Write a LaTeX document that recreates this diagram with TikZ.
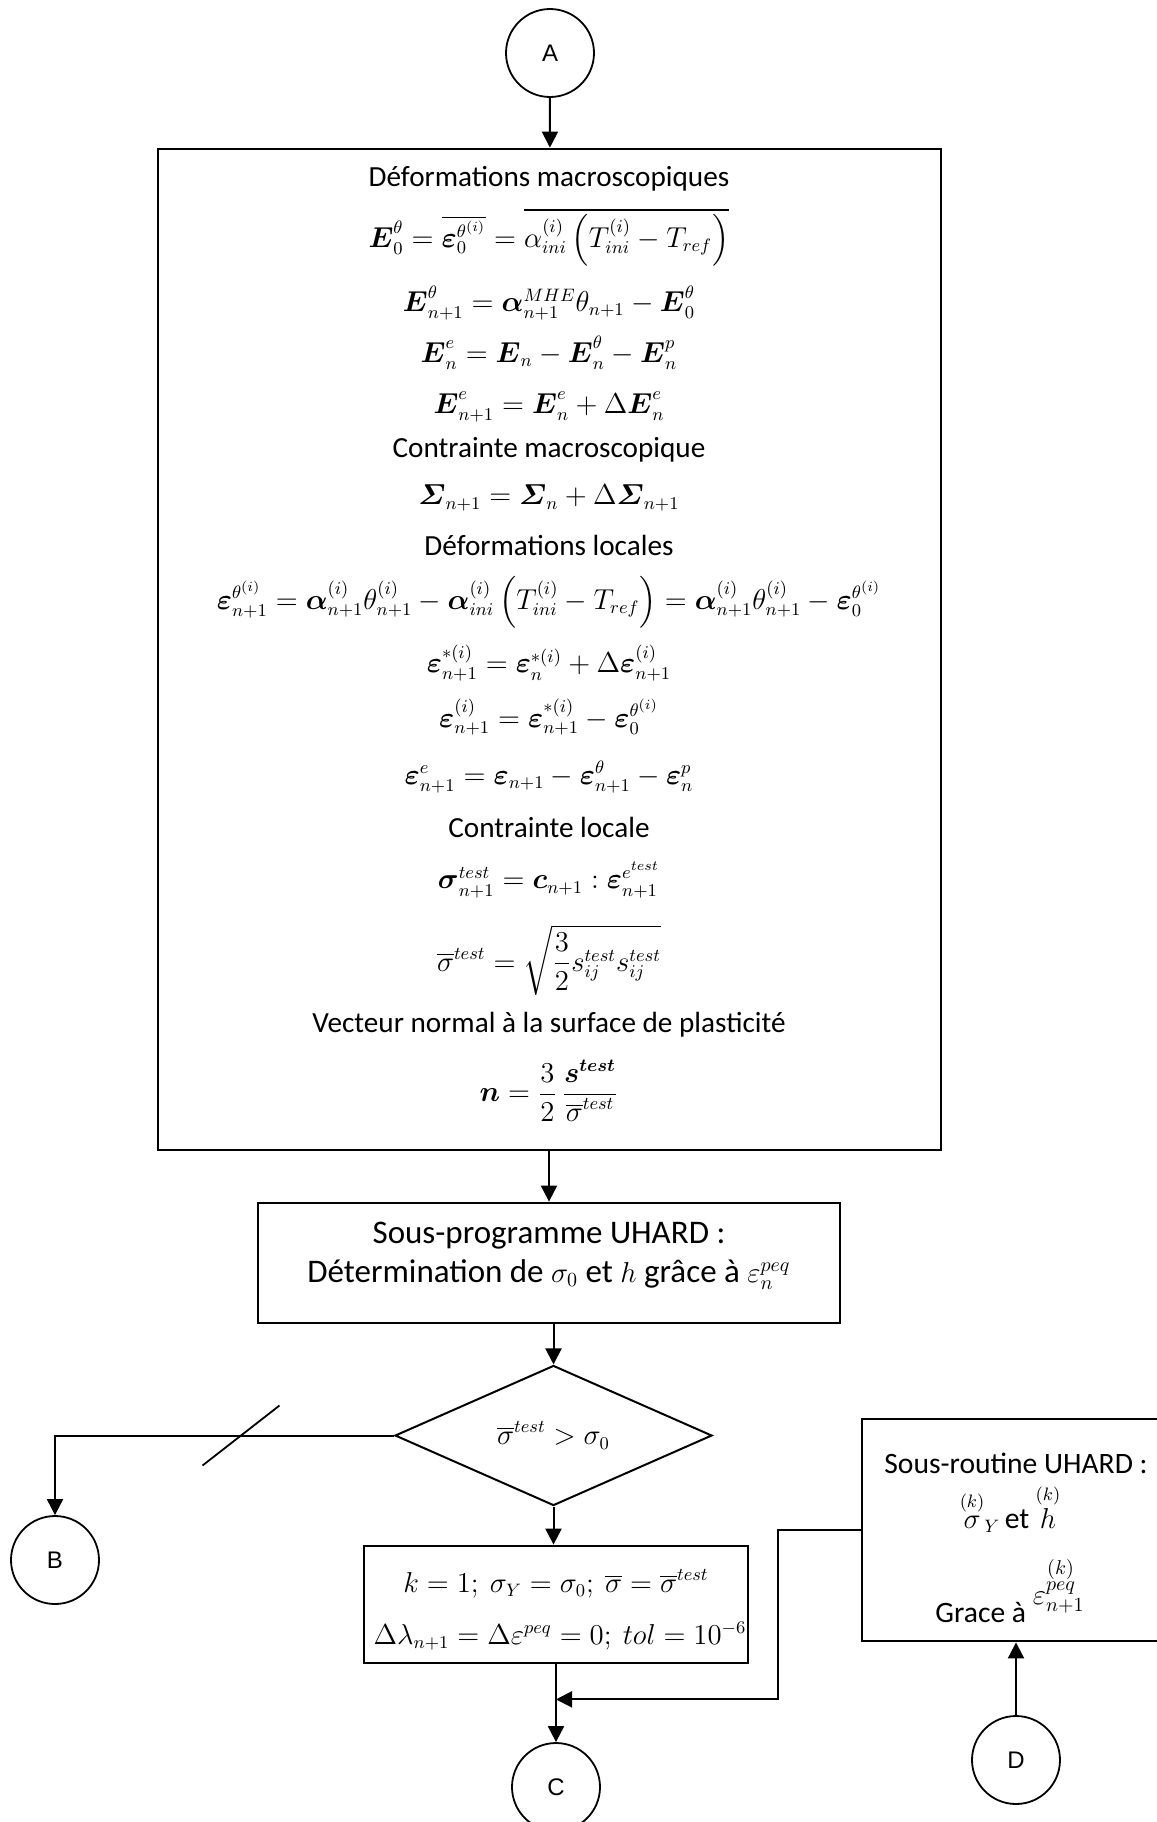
\documentclass[tikz,border=0pt]{standalone}
\usepackage{amsmath}
\usepackage[no-math]{fontspec}
\setmainfont{Carlito}
\newfontfamily\letterfont{Liberation Sans}
\usetikzlibrary{arrows.meta,positioning,calc,shapes.geometric}
\DeclareMathSizes{14}{14}{9.5}{7}
\DeclareMathSizes{15}{15}{10}{7.5}
\DeclareMathSizes{16}{16}{11}{8}
\newcommand{\bfE}{\boldsymbol{E}}
\newcommand{\bfeps}{\boldsymbol{\varepsilon}}
\newcommand{\bfalpha}{\boldsymbol{\alpha}}
\newcommand{\mth}[1]{{\fontsize{15}{17}\selectfont$#1$}}

\begin{document}
\begin{tikzpicture}[
    x=0.5pt, y=-0.5pt, >={Triangle[length=8pt,width=8pt]},
    link/.style={circle,draw,line width=0.9pt,minimum size=44pt,inner sep=0pt,
                 font=\fontsize{12}{14}\letterfont},
    block/.style={draw,line width=1.4pt,inner sep=0pt},
    head/.style={font=\fontsize{14.6}{17}\selectfont},
    eq/.style={font=\fontsize{14}{17}\selectfont},
    test/.style={diamond,draw,line width=1pt,inner sep=0pt,
                 minimum width=158.5pt,minimum height=67.5pt},
    flow/.style={->,line width=1pt}
  ]
    \useasboundingbox (0,0) rectangle (1157,1822);
    \clip (0,0) rectangle (1157,1822);

    \node[link] (A) at (550,53) {A};

    % bloc principal
    \node[block, minimum width=391.5pt, minimum height=500.5pt] (macro) at (549.5,649.5) {};
    \node[head] (h1) at (549,179) {Déformations macroscopiques};
    \node[eq] (e1) at (549,237) {$\bfE_0^{\theta} = \overline{\bfeps_0^{\theta^{(i)}}} = \overline{\alpha_{ini}^{(i)}\left(T_{ini}^{(i)} - T_{ref}\right)}$};
    \node[eq] (e2) at (549,303) {$\bfE_{n+1}^{\theta} = \bfalpha_{n+1}^{MHE}\theta_{n+1} - \bfE_0^{\theta}$};
    \node[eq] (e3) at (549,353) {$\bfE_n^e = \bfE_n - \bfE_n^{\theta} - \bfE_n^p$};
    \node[eq] (e4) at (549,407) {$\bfE_{n+1}^e = \bfE_n^e + \Delta\bfE_n^e$};
    \node[head] (h2) at (549,450) {Contrainte macroscopique};
    \node[eq] (e5) at (549,498) {$\boldsymbol{\varSigma}_{n+1} = \boldsymbol{\varSigma}_n + \Delta\boldsymbol{\varSigma}_{n+1}$};
    \node[head] (h3) at (549,545) {Déformations locales};
    \node[eq] (e6) at (549,602) {$\bfeps_{n+1}^{\theta^{(i)}} = \bfalpha_{n+1}^{(i)}\theta_{n+1}^{(i)} - \bfalpha_{ini}^{(i)}\left(T_{ini}^{(i)} - T_{ref}\right) = \bfalpha_{n+1}^{(i)}\theta_{n+1}^{(i)} - \bfeps_0^{\theta^{(i)}}$};
    \node[eq] (e7) at (549,663) {$\bfeps_{n+1}^{*(i)} = \bfeps_n^{*(i)} + \Delta\bfeps_{n+1}^{(i)}$};
    \node[eq] (e8) at (549,717) {$\bfeps_{n+1}^{(i)} = \bfeps_{n+1}^{*(i)} - \bfeps_0^{\theta^{(i)}}$};
    \node[eq] (e9) at (549,777) {$\bfeps_{n+1}^e = \bfeps_{n+1} - \bfeps_{n+1}^{\theta} - \bfeps_n^p$};
    \node[head] (h4) at (549,827) {Contrainte locale};
    \node[eq] (e10) at (549,880) {$\boldsymbol{\sigma}_{n+1}^{test} = \boldsymbol{c}_{n+1} : \bfeps_{n+1}^{e^{test}}$};
    \node[eq] (e11) at (549,960) {$\overline{\sigma}^{test} = \sqrt{\dfrac{3}{2}s_{ij}^{test}s_{ij}^{test}}$};
    \node[head] (h5) at (549,1025) {Vecteur normal à la surface de plasticité};
    \node[eq] (e12) at (549,1091) {$\boldsymbol{n} = \dfrac{3}{2}\,\dfrac{\boldsymbol{s}^{\boldsymbol{test}}}{\overline{\sigma}^{test}}$};

    % sous-programme
    \node[block, minimum width=291pt, minimum height=60pt] (uhard) at (549,1263) {};
    \node[font=\fontsize{16.5}{19}\selectfont, anchor=base] (u1) at (549,1243) {Sous-programme UHARD :};
    \node[font=\fontsize{16.5}{19}\selectfont, anchor=base] (u2) at (549,1282)
      {Détermination de \mth{\sigma_0} et \mth{h} grâce à \mth{\varepsilon_n^{peq}}};

    \node[test, eq] (dec) at (553.5,1435.5) {$\overline{\sigma}^{test} > \sigma_0$};

    \node[block, minimum width=192pt, minimum height=58.5pt] (init) at (556,1604.5) {};
    \node[eq] (k1) at (556,1584) {$k = 1;\ \sigma_Y = \sigma_0;\ \overline{\sigma} = \overline{\sigma}^{test}$};
    \node[eq] (k2) at (560,1636) {$\Delta\lambda_{n+1} = \Delta\varepsilon^{peq} = 0;\ tol = 10^{-6}$};

    % sous-routine a droite
    \node[block, minimum width=156.5pt, minimum height=111pt] (routine) at (1018.5,1530) {};
    \node[font=\fontsize{14.8}{17}\selectfont, anchor=base] (r1) at (1016,1473) {Sous-routine UHARD :};
    \node[eq, anchor=base] (r2) at (1010,1528)
      {$\overset{(k)}{\sigma}_Y$\,{\fontsize{14.8}{17}\selectfont et} $\overset{(k)}{h}$};
    \node[font=\fontsize{14.8}{17}\selectfont, anchor=base] (r3) at (1010,1622)
      {Grace à \raisebox{9pt}{\mth{\varepsilon^{\overset{\scriptstyle(k)}{peq}}_{n+1}}}};

    \node[link] (B) at (55,1560) {B};
    \node[link] (C) at (556,1787) {C};
    \node[link] (D) at (1016,1760) {D};

    \coordinate (cut) at (241,1435.5);
    \coordinate (join) at ($(init.south)!0.45!(C.north)$);

    \draw[flow] (A) -- (macro);
    \draw[flow] (macro.south -| uhard) -- (uhard);
    \draw[flow] (uhard.south -| dec) -- (dec);
    \draw[flow] (dec.south) -- (dec.south |- init.north);
    \draw[flow] (dec.west) -| (B.north);
    \draw[line width=0.9pt] ([shift={(-38.5,30)}]cut) -- ([shift={(38.5,-30)}]cut);
    \draw[flow] (init) -- (C);
    \draw[flow] (routine.west) -- ++(-83,0) |- (join);
    \draw[flow] (D) -- (D |- routine.south);
  \end{tikzpicture}
\end{document}
